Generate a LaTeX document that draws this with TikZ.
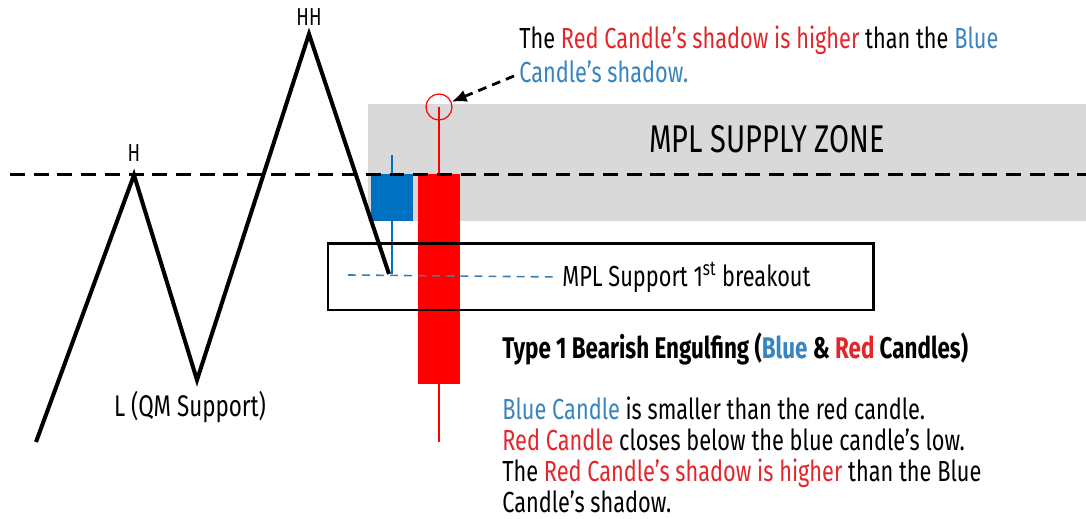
\documentclass[tikz,border=0pt]{standalone}
\usepackage{fontspec}
\setmainfont{Fira Sans}[FakeStretch=0.75]
\usetikzlibrary{arrows.meta,positioning,calc}
\definecolor{mplred}{HTML}{FF0000}
\definecolor{mplblue}{HTML}{0070C0}
\definecolor{txtred}{HTML}{E3262B}
\definecolor{txtblue}{HTML}{3784BF}
\definecolor{zonegray}{HTML}{D9D9D9}
\definecolor{lineblue}{HTML}{3A7FB0}
\newcommand{\rd}[1]{\textcolor{txtred}{#1}}
\newcommand{\bl}[1]{\textcolor{txtblue}{#1}}

\begin{document}
\begin{tikzpicture}[x=0.02cm,y=-0.02cm,
    lbl/.style={font=\fontsize{14}{16}\selectfont,inner sep=0pt},
    txt/.style={font=\fontsize{16.5}{17.6}\selectfont,align=left,inner sep=0pt},
    zig/.style={line width=2.3pt,line join=miter},
    lvl/.style={dash pattern=on 8.5pt off 5pt,line width=1.7pt},
    wick/.style={line width=0.6pt}]
  \useasboundingbox (0,0) rectangle (1086,519);
  % supply zone
  \fill[zonegray] (368,104) rectangle (1086,221);
  \node[font=\fontsize{22}{26}\selectfont,inner sep=0pt] (zone) at (767,139) {MPL SUPPLY ZONE};
  % candles
  \draw[wick,mplblue] (392,155) -- (392,274);
  \fill[mplblue] (371,174) rectangle (413,221);
  \draw[wick,mplred] (439,107) -- (439,442);
  \fill[mplred] (418,174) rectangle (460,384);
  \node[circle,draw=mplred,line width=0.7pt,minimum size=0.52cm,inner sep=0pt] (tip) at (439,107) {};
  % level line
  \draw[lvl] (10,175) -- (1086,175);
  % price swings
  \coordinate (s) at (36,442);
  \coordinate (h) at (134,175);
  \coordinate (l) at (197,380);
  \coordinate (hh) at (309,34);
  \coordinate (e) at (389,274);
  \draw[zig] (s) -- (h) -- (l) -- (hh) -- (e);
  \node[lbl] (hlbl) at (134,153) {H};
  \node[lbl] (hhlbl) at (309,17) {HH};
  \node[lbl,font=\fontsize{17}{19}\selectfont] (llbl) at (190,407) {L (QM Support)};
  % breakout box
  \draw[line width=1.7pt] (328,244) rectangle (873,310);
  \node[txt,anchor=west] (brk) at (562,277) {MPL Support 1\textsuperscript{st} breakout};
  \draw[lineblue,line width=0.9pt,dash pattern=on 4.5pt off 3.5pt,shorten >=4pt] (348,275) -- (brk.west);
  % notes
  \node[txt,anchor=north west] (note) at (519,26)
    {The \rd{Red Candle’s shadow is higher} than the \bl{Blue}\\[1.5pt]\bl{Candle’s shadow.}};
  \coordinate (from) at (514,76);
  \draw[-{Latex[length=3mm,width=2.5mm]},dash pattern=on 5pt off 3.5pt,line width=1.6pt] (from) -- (tip);
  \node[txt,anchor=north west,font=\fontsize{17}{17.6}\bfseries] (type) at (502,332)
    {Type 1 Bearish Engulfing (\bl{Blue} \& \rd{Red} Candles)};
  \node[txt,anchor=north west] (list) at (502,397)
    {\bl{Blue Candle} is smaller than the red candle.\\
     \rd{Red Candle} closes below the blue candle’s low.\\
     The \rd{Red Candle’s shadow is higher} than the Blue\\
     Candle’s shadow.};
\end{tikzpicture}
\end{document}
